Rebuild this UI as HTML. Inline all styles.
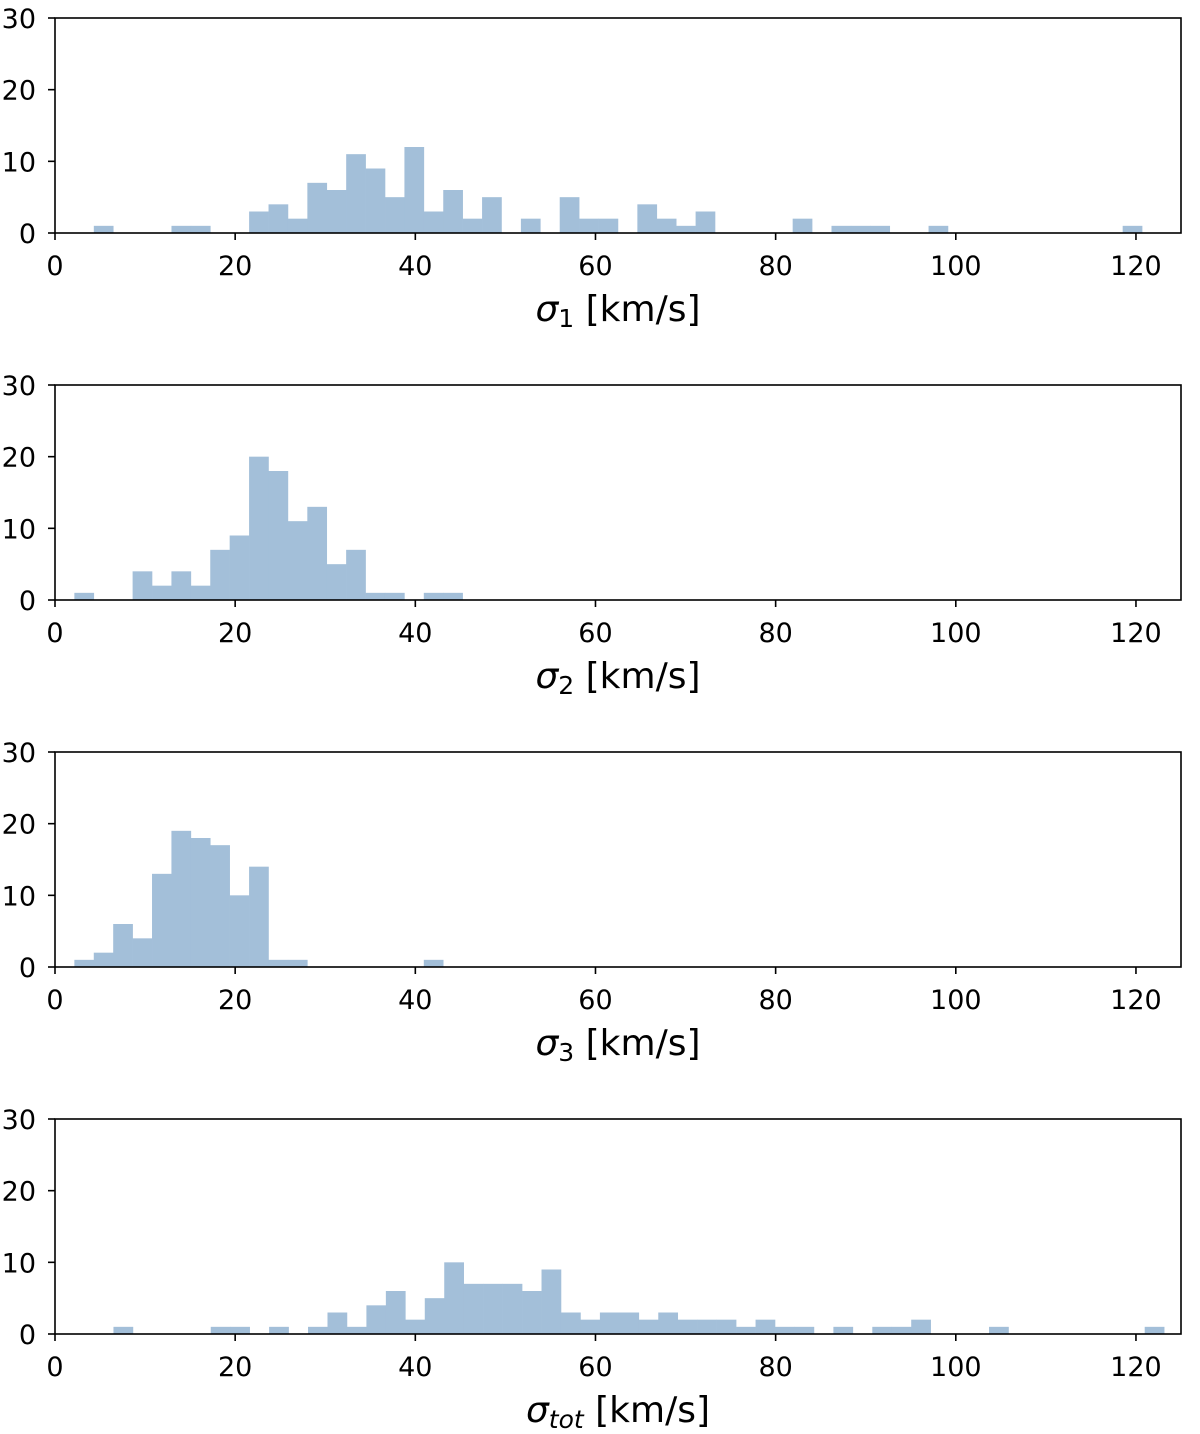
<!DOCTYPE html>
<html><head><meta charset="utf-8">
<style>
html,body{margin:0;padding:0;background:#fff;}
svg{display:block;font-family:"DejaVu Sans","Liberation Sans",sans-serif;}
</style></head>
<body>
<svg id="chart" width="1200" height="1434" viewBox="0 0 1200 1434" xmlns="http://www.w3.org/2000/svg"></svg>
<script>
const panelNames = ["sigma1", "sigma2", "sigma3", "sigmatot"];
const binStarts = [4.31, 2.15, 2.15, 6.49];
const binWidths = [2.155, 2.155, 2.155, 2.16];
const counts1 = [1,0,0,0,1,1,0,0,3,4,2,7,6,11,9,5,12,3,6,2,5,0,2,0,5,2,2,0,4,2,1,3,0,0,0,0,2,0,1,1,1,0,0,1,0,0,0,0,0,0,0,0,0,1];
const counts2 = [1,0,0,4,2,4,2,7,9,20,18,11,13,5,7,1,1,0,1,1];
const counts3 = [1,2,6,4,13,19,18,17,10,14,1,1,0,0,0,0,0,0,1];
const counts4 = [1,0,0,0,0,1,1,0,1,0,1,3,1,4,6,2,5,10,7,7,7,6,9,3,2,3,3,2,3,2,2,2,1,2,1,1,0,1,0,1,1,2,0,0,0,1,0,0,0,0,0,0,0,1];
const xTicks = [0,20,40,60,80,100,120];
const yTicks = [0,10,20,30];
const subs = ["1","2","3","tot"];

const svg = document.getElementById('chart');
const NS = "http://www.w3.org/2000/svg";
const allCounts = [counts1, counts2, counts3, counts4];
const tops = [18, 385, 752, 1119];
const L = 55, R = 1181, H = 215, XMAX = 125, YMAX = 30;
function mk(tag, attrs, parent){const e=document.createElementNS(NS,tag);for(const k in attrs)e.setAttribute(k,attrs[k]);parent.appendChild(e);return e;}

allCounts.forEach((counts, p) => {
  const top = tops[p], bot = top + H;
  const xs = v => L + v / XMAX * (R - L);
  const ys = v => bot - v / YMAX * H;
  const g = mk('g', {}, svg);
  
  
  counts.forEach((c, i) => {
    if (c <= 0) return;
    const x0 = xs(binStarts[p] + i * binWidths[p]);
    const x1 = xs(binStarts[p] + (i + 1) * binWidths[p]);
    const r = mk('rect', {x:x0, y:ys(c), width:x1-x0+0.3, height:bot-ys(c), fill:'#a3bfd9'}, g);
    
    
  });
  const frame = mk('rect', {x:L, y:top, width:R-L, height:H, fill:'none', stroke:'#000', 'stroke-width':1.6}, g);
  
  
  xTicks.forEach(t => {
    const x = xs(t);
    mk('line', {x1:x, x2:x, y1:bot, y2:bot+7, stroke:'#000', 'stroke-width':1.6}, g);
    const tx = mk('text', {x:x, y:bot+42, 'text-anchor':'middle', 'font-size':27, fill:'#000'}, g);
    tx.textContent = t;
    
    
  });
  yTicks.forEach(t => {
    const y = ys(t);
    mk('line', {x1:L, x2:L-7, y1:y, y2:y, stroke:'#000', 'stroke-width':1.6}, g);
    const ty = mk('text', {x:L-19, y:y+10, 'text-anchor':'end', 'font-size':27, fill:'#000'}, g);
    ty.textContent = t;
    
    
  });
  const lab = mk('text', {x:618, y:bot+88, 'text-anchor':'middle', 'font-size':36, fill:'#000'}, g);
  
  
  const s1 = mk('tspan', {'font-style':'italic'}, lab); s1.textContent = 'σ';
  const s2 = mk('tspan', {'font-size':25, dy:6, 'font-style': subs[p]==='tot'?'italic':'normal'}, lab); s2.textContent = subs[p];
  const s3 = mk('tspan', {dy:-6}, lab); s3.textContent = ' [km/s]';
});
</script>
</body></html>
